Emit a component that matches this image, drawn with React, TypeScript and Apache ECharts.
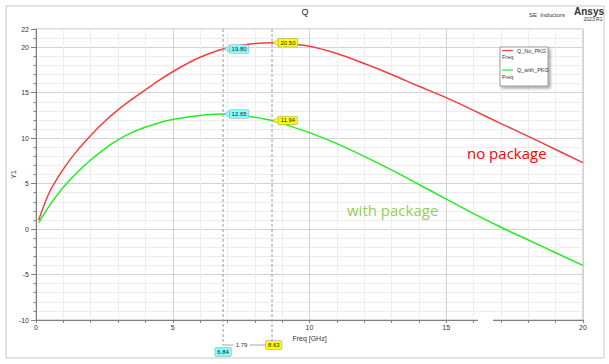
import React, { useEffect, useRef } from 'react';
import * as echarts from 'echarts';

const redFreq = [0.1, 0.5, 1, 1.5, 2, 2.5, 3, 3.5, 4, 4.5, 5, 5.5, 6, 6.84, 7.5, 8, 8.63, 9, 10, 11, 12, 13, 14, 15, 16, 17, 18, 19, 20];
const redQ = [1.0, 4.1, 6.6, 8.6, 10.3, 11.8, 13.1, 14.25, 15.3, 16.35, 17.3, 18.15, 18.9, 19.8, 20.2, 20.4, 20.5, 20.45, 20.1, 19.3, 18.2, 17.0, 15.7, 14.45, 13.05, 11.6, 10.2, 8.75, 7.3];
const greenFreq = [0.1, 0.5, 1, 1.5, 2, 2.5, 3, 3.5, 4, 4.5, 5, 5.5, 6, 6.84, 7.5, 8, 8.63, 9, 10, 11, 12, 13, 14, 15, 16, 17, 18, 19, 20];
const greenQ = [0.7, 2.6, 4.6, 6.2, 7.6, 8.8, 9.8, 10.6, 11.2, 11.7, 12.05, 12.3, 12.5, 12.65, 12.5, 12.3, 11.94, 11.6, 10.6, 9.4, 8.0, 6.5, 4.9, 3.3, 1.7, 0.2, -1.2, -2.6, -4.0];
const seriesNames = ['Q_No_PKG', 'Q_with_PKG'];
const markerFreqs = [6.84, 8.63];
const redMarkerQ = [19.8, 20.5];
const greenMarkerQ = [12.65, 11.94];
const xTickLabels = [0, 5, 10, 15, 20];
const yTickLabels = [-10, -5, 0, 5, 10, 15, 20, 22];

const FAM = '"Liberation Sans", Arial, sans-serif';
const RED = '#f53d3d';
const GREEN = '#22ee22';
const CYAN = '#80ffff';
const YELLOW = '#ffff00';
const markerColors = [CYAN, YELLOW];

export default function App() {
  const ref = useRef<HTMLDivElement>(null);
  useEffect(() => {
    const chart = echarts.init(ref.current!, null, { renderer: 'svg' });
    const splitColors = ['#d2d2d2', '#ededed', '#ededed', '#ededed', '#ededed'];
    chart.setOption({
      animation: false,
      backgroundColor: '#fff',
      grid: { left: 36, right: 26, top: 29, bottom: 44, show: true, borderColor: '#b8b8b8', borderWidth: 1, containLabel: false, outerBoundsMode: 'none' },
      xAxis: [{
        type: 'value', min: 0, max: 20, interval: 1,
        name: 'Freq [GHz]', nameLocation: 'middle', nameGap: 15, nameMoveOverlap: false,
        nameTextStyle: { fontSize: 7, color: '#333', fontFamily: FAM },
        axisLine: { show: true, onZero: false, lineStyle: { color: '#808080' } },
        axisTick: { show: true, length: 3, lineStyle: { color: '#808080' } },
        axisLabel: { formatter: (v: number) => (xTickLabels.includes(v) ? String(v) : ''), fontSize: 7, color: '#333', margin: 4, fontFamily: FAM },
        splitLine: { show: true, lineStyle: { color: splitColors, width: 1 } },
      }],
      yAxis: [{
        type: 'value', min: -10, max: 22, interval: 1, position: 'left',
        name: 'Y1', nameLocation: 'middle', nameGap: 19, nameRotate: 90, nameMoveOverlap: false,
        nameTextStyle: { fontSize: 7, color: '#333', fontFamily: FAM },
        axisLine: { show: true, onZero: false, lineStyle: { color: '#808080' } },
        axisTick: { show: true, length: 2.5, lineStyle: { color: '#808080' } },
        axisLabel: { formatter: (v: number) => (yTickLabels.includes(v) ? String(v) : ''), fontSize: 7, color: '#333', margin: 7, fontFamily: FAM },
        splitLine: { show: true, lineStyle: { color: splitColors, width: 1 } },
      }, {
        type: 'value', min: -10, max: 22, interval: 5, position: 'left',
        axisLine: { show: false }, axisLabel: { show: false }, splitLine: { show: false },
        axisTick: { show: true, length: 5, lineStyle: { color: '#808080' } },
      }],
      series: [
        { name: seriesNames[0], type: 'line', showSymbol: false, smooth: 0.3, data: redFreq.map((f, i) => [f, redQ[i]]), lineStyle: { color: RED, width: 1.5 }, itemStyle: { color: RED } },
        { name: seriesNames[1], type: 'line', showSymbol: false, smooth: 0.3, data: greenFreq.map((f, i) => [f, greenQ[i]]), lineStyle: { color: GREEN, width: 1.5 }, itemStyle: { color: GREEN } },
      ],
    });

    const p = (x: number, y: number) => chart.convertToPixel({ seriesIndex: 0 }, [x, y]) as number[];
    const topY = p(0, 22)[1];
    const botY = p(0, -10)[1];
    const xs = markerFreqs.map((f) => p(f, 0)[0]);
    const g: any[] = [];
    g.push({ type: 'rect', shape: { x: 6, y: 6, width: 598, height: 352 }, style: { fill: 'none', stroke: '#c8c8c8', lineWidth: 1 }, silent: true });
    g.push({ type: 'text', x: 305, y: 12, style: { text: 'Q', fontSize: 9, fontFamily: FAM, fill: '#222', align: 'center', verticalAlign: 'middle' } });
    g.push({ type: 'text', x: 547, y: 15, style: { text: 'SE  Inductors', fontSize: 6, fontFamily: FAM, fill: '#333', align: 'center', verticalAlign: 'middle' } });
    g.push({ type: 'text', x: 589, y: 11, style: { text: 'Ansys', fontSize: 10, fontWeight: 'bold', fontFamily: FAM, fill: '#333', align: 'center', verticalAlign: 'middle' } });
    g.push({ type: 'text', x: 593, y: 19, style: { text: '2023 R1', fontSize: 5, fontFamily: FAM, fill: '#333', align: 'center', verticalAlign: 'middle' } });
    g.push({ type: 'rect', shape: { x: 478, y: 317, width: 15, height: 6 }, style: { fill: '#fff' }, z: 10 });
    g.push({
      type: 'group', x: 500, y: 47, z: 20, children: [
        { type: 'rect', shape: { x: 0, y: 0, width: 48, height: 39 }, style: { fill: '#fff', stroke: '#999', lineWidth: 1, shadowBlur: 3, shadowOffsetX: 2, shadowOffsetY: 2, shadowColor: 'rgba(0,0,0,0.35)' } },
        { type: 'line', shape: { x1: 2, y1: 3.5, x2: 13, y2: 3.5 }, style: { stroke: RED, lineWidth: 1.2 } },
        { type: 'text', x: 17, y: 3.5, style: { text: seriesNames[0], fontSize: 5.5, fontFamily: FAM, fill: '#333', verticalAlign: 'middle' } },
        { type: 'text', x: 2, y: 10, style: { text: 'Freq', fontSize: 5.5, fontFamily: FAM, fill: '#333', verticalAlign: 'middle' } },
        { type: 'line', shape: { x1: 2, y1: 23, x2: 13, y2: 23 }, style: { stroke: GREEN, lineWidth: 1.2 } },
        { type: 'text', x: 17, y: 23, style: { text: seriesNames[1], fontSize: 5.5, fontFamily: FAM, fill: '#333', verticalAlign: 'middle' } },
        { type: 'text', x: 2, y: 30, style: { text: 'Freq', fontSize: 5.5, fontFamily: FAM, fill: '#333', verticalAlign: 'middle' } },
      ],
    });
    const lineEnds = [botY + 25, botY + 21];
    xs.forEach((x, i) => {
      g.push({ type: 'line', shape: { x1: x, y1: topY, x2: x, y2: lineEnds[i] }, style: { stroke: '#9a9a9a', lineWidth: 1, lineDash: [3, 2] }, z: 5 });
    });
    const midY = botY + 25;
    const delta = (markerFreqs[1] - markerFreqs[0]).toFixed(2);
    const midX = (xs[0] + xs[1]) / 2 - 6;
    g.push({ type: 'line', shape: { x1: xs[0], y1: midY, x2: midX - 8, y2: midY }, style: { stroke: '#aaa', lineWidth: 1 } });
    g.push({ type: 'line', shape: { x1: midX + 8, y1: midY, x2: xs[1] - 6, y2: midY }, style: { stroke: '#aaa', lineWidth: 1 } });
    g.push({ type: 'text', x: midX, y: midY, style: { text: delta, fontSize: 6, fontFamily: FAM, fill: '#333', align: 'center', verticalAlign: 'middle' } });
    g.push({ type: 'text', x: xs[0], y: botY + 32, z: 6, style: { text: markerFreqs[0].toFixed(2), fontSize: 6, fontFamily: FAM, fill: '#222', align: 'center', verticalAlign: 'middle', backgroundColor: CYAN, borderColor: '#888', borderWidth: 0.5, padding: [1, 2] } });
    g.push({ type: 'text', x: xs[1] - 6, y: midY, z: 6, style: { text: markerFreqs[1].toFixed(2), fontSize: 6, fontFamily: FAM, fill: '#222', align: 'left', verticalAlign: 'middle', backgroundColor: YELLOW, borderColor: '#888', borderWidth: 0.5, padding: [1, 2] } });
    const tags: [number, number, string][] = [];
    markerFreqs.forEach((f, i) => {
      tags.push([f, redMarkerQ[i], markerColors[i]]);
      tags.push([f, greenMarkerQ[i], markerColors[i]]);
    });
    tags.forEach(([f, q, c]) => {
      const [x, y] = p(f, q);
      g.push({ type: 'polygon', z: 7, shape: { points: [[x + 1, y], [x + 6.5, y - 3.5], [x + 6.5, y + 3.5]] }, style: { fill: c, stroke: '#999', lineWidth: 0.5 } });
      g.push({ type: 'text', x: x + 6.5, y, z: 8, style: { text: q.toFixed(2), fontSize: 6, fontFamily: FAM, fill: '#222', align: 'left', verticalAlign: 'middle', backgroundColor: c, borderColor: '#999', borderWidth: 0.5, padding: [1, 2] } });
    });
    g.push({ type: 'text', x: 467, y: 153, style: { text: 'no package', fontSize: 15, fontFamily: '"Open Sans", sans-serif', fill: '#ff0000', verticalAlign: 'middle' } });
    g.push({ type: 'text', x: 347, y: 210, style: { text: 'with package', fontSize: 15, fontFamily: '"Open Sans", sans-serif', fill: '#92d050', verticalAlign: 'middle' } });
    chart.setOption({ graphic: g });
    return () => chart.dispose();
  }, []);
  return <div ref={ref} style={{ position: 'fixed', left: 0, top: 0, width: 609, height: 364, background: '#fff' }} />;
}
